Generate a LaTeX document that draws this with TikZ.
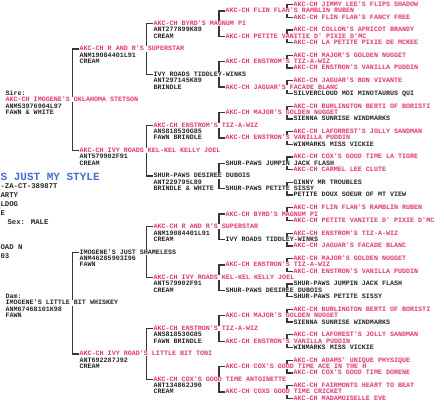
\documentclass[tikz,border=0pt]{standalone}
\usepackage{fontspec}
\newfontfamily\pedfont{Liberation Mono}
\usetikzlibrary{calc}
\definecolor{pk}{RGB}{225,55,120}
\definecolor{bk}{RGB}{40,40,40}
\definecolor{ttl}{RGB}{70,110,210}
\definecolor{linec}{RGB}{55,55,55}
\pgfdeclarelayer{bg}
\pgfsetlayers{bg,main}
\def\yb{4.6}
\def\ys{12.7}
\tikzset{
 txt/.style={anchor=west, inner sep=0.4pt, text height=4.1pt, text depth=0.3pt, font=\pedfont\bfseries\fontsize{6.7}{8}\selectfont},
 nm/.style={txt, fill=white},
 info/.style={txt, text=bk},
 conn/.style={draw=linec, line width=1.3pt, line join=miter},
 side/.style={anchor=west, inner sep=0.4pt, text=bk, font=\pedfont\bfseries\fontsize{7.3}{9}\selectfont},
}
\begin{document}
\begin{tikzpicture}[x=1pt,y=-1pt]
\useasboundingbox (0,0) rectangle (444,403);
\begin{pgfonlayer}{bg}
\fill[white] (0,0) rectangle (444,403);
\end{pgfonlayer}
% generation 5
\foreach \k/\c/\t in {
 0/pk/{AKC-CH JIMMY LEE'S FLIPS SHADOW},
 1/pk/{AKC-CH FLIN FLAN'S FANCY FREE},
 2/pk/{AKC-CH COLLON'S APRICOT BRANDY},
 3/pk/{AKC-CH LA PETITE PIXIE DE MCKEE},
 4/pk/{AKC-CH MAJOR'S GOLDEN NUGGET},
 5/pk/{AKC-CH ENSTRON'S VANILLA PUDDIN},
 6/pk/{AKC-CH JAGUAR'S BON VIVANTE},
 7/bk/{SILVERCLOUD MOI MINOTAURUS QUI},
 8/pk/{AKC-CH BURLINGTON BERTI OF BORISTI},
 9/bk/{SIENNA SUNRISE WINDMARKS},
 10/pk/{AKC-CH LAFORREST'S JOLLY SANDMAN},
 11/bk/{WINMARKS MISS VICKIE},
 12/pk/{AKC-CH COX'S GOOD TIME LA TIGRE},
 13/pk/{AKC-CH CARMEL LEE CLUTE},
 14/bk/{GINNY MR TROUBLES},
 15/bk/{PETITE DOUX SOEUR OF MT VIEW},
 16/pk/{AKC-CH FLIN FLAN'S RAMBLIN RUBEN},
 17/pk/{AKC-CH PETITE VANITIE D' PIXIE D'MC},
 18/pk/{AKC-CH ENSTROM'S TIZ-A-WIZ},
 19/pk/{AKC-CH JAGUAR'S FACADE BLANC},
 20/pk/{AKC-CH MAJOR'S GOLDEN NUGGET},
 21/pk/{AKC-CH ENSTRON'S VANILLA PUDDIN},
 22/bk/{SHUR-PAWS JUMPIN JACK FLASH},
 23/bk/{SHUR-PAWS PETITE SISSY},
 24/pk/{AKC-CH BURLINGTON BERTI OF BORISTI},
 25/bk/{SIENNA SUNRISE WINDMARKS},
 26/pk/{AKC-CH LAFOREST'S JOLLY SANDMAN},
 27/bk/{WINMARKS MISS VICKIE},
 28/pk/{AKC-CH ADAMS' UNIQUE PHYSIQUE},
 29/pk/{AKC-CH COX'S GOOD TIME DORENE},
 30/pk/{AKC-CH FAIRMONTS HEART TO BEAT},
 31/pk/{AKC-CH MADAMOISELLE EVE}}{
 \node[nm,text=\c] (g5-\k) at (293,{\yb+\ys*\k}) {\t};
}
% generation 4
\foreach \k/\c/\t in {
 0/pk/{AKC-CH FLIN FLAN'S RAMBLIN RUBEN},
 1/pk/{AKC-CH PETITE VANITIE D' PIXIE D'MC},
 2/pk/{AKC-CH ENSTROM'S TIZ-A-WIZ},
 3/pk/{AKC-CH JAGUAR'S FACADE BLANC},
 4/pk/{AKC-CH MAJOR'S GOLDEN NUGGET},
 5/pk/{AKC-CH ENSTRON'S VANILLA PUDDIN},
 6/bk/{SHUR-PAWS JUMPIN JACK FLASH},
 7/bk/{SHUR-PAWS PETITE SISSY},
 8/pk/{AKC-CH BYRD'S MAGNUM PI},
 9/bk/{IVY ROADS TIDDLEY-WINKS},
 10/pk/{AKC-CH ENSTRON'S TIZ-A-WIZ},
 11/bk/{SHUR-PAWS DESIREE DUBOIS},
 12/pk/{AKC-CH MAJOR'S GOLDEN NUGGET},
 13/pk/{AKC-CH ENSTRON'S VANILLA PUDDIN},
 14/pk/{AKC-CH COX'S GOOD TIME ACE IN THE H},
 15/pk/{AKC-CH COXS GOOD TIME CRICKET}}{
 \node[nm,text=\c] (g4-\k) at (225,{\yb+\ys*(2*\k+0.5)}) {\t};
}
% generation 3
\foreach \k/\c/\t/\r/\d in {
 0/pk/{AKC-CH BYRD'S MAGNUM PI}/{ANT277899K89}/{CREAM},
 1/bk/{IVY ROADS TIDDLEY-WINKS}/{ANT297145K89}/{BRINDLE},
 2/pk/{AKC-CH ENSTROM'S TIZ-A-WIZ}/{ANS818530G85}/{FAWN BRINDLE},
 3/bk/{SHUR-PAWS DESIREE DUBOIS}/{ANT229795L89}/{BRINDLE \& WHITE},
 4/pk/{AKC-CH R AND R'S SUPERSTAR}/{ANM19084401L91}/{CREAM},
 5/pk/{AKC-CH IVY ROADS KEL-KEL KELLY JOEL}/{ANT579902F91}/{CREAM},
 6/pk/{AKC-CH ENSTRON'S TIZ-A-WIZ}/{ANS818530G85}/{FAWN BRINDLE},
 7/pk/{AKC-CH COX'S GOOD TIME ANTOINETTE}/{ANT134862J90}/{CREAM}}{
 \node[nm,text=\c] (g3-\k) at (153,{\yb+\ys*(4*\k+1.5)}) {\t};
 \node[info] (g3-\k-r) at (153,{\yb+\ys*(4*\k+1.5)+6.4}) {\r};
 \node[info] (g3-\k-c) at (153,{\yb+\ys*(4*\k+1.5)+12.8}) {\d};
}
% generation 2
\foreach \k/\c/\t/\r/\d in {
 0/pk/{AKC-CH R AND R'S SUPERSTAR}/{ANM19084401L91}/{CREAM},
 1/pk/{AKC-CH IVY ROADS KEL-KEL KELLY JOEL}/{ANT579902F91}/{CREAM},
 2/bk/{IMOGENE'S JUST SHAMELESS}/{ANM46285903I96}/{FAWN},
 3/pk/{AKC-CH IVY ROAD'S LITTLE BIT TONI}/{ANT692287J92}/{CREAM}}{
 \node[nm,text=\c] (g2-\k) at (79,{\yb+\ys*(8*\k+3.5)}) {\t};
 \node[info] (g2-\k-r) at (79,{\yb+\ys*(8*\k+3.5)+6.4}) {\r};
 \node[info] (g2-\k-c) at (79,{\yb+\ys*(8*\k+3.5)+12.8}) {\d};
}
% generation 1
\foreach \k/\l/\c/\t/\r/\d in {
 0/{Sire:}/pk/{AKC-CH IMOGENE'S OKLAHOMA STETSON}/{ANM53976904L97}/{FAWN \& WHITE},
 1/{Dam:}/bk/{IMOGENE'S LITTLE BIT WHISKEY}/{ANM67468101K98}/{FAWN}}{
 \node[info] (g1-\k-l) at (5,{\yb+\ys*(16*\k+7.5)-6.4}) {\l};
 \node[nm,text=\c] (g1-\k) at (5,{\yb+\ys*(16*\k+7.5)}) {\t};
 \node[info] (g1-\k-r) at (5,{\yb+\ys*(16*\k+7.5)+6.4}) {\r};
 \node[info] (g1-\k-c) at (5,{\yb+\ys*(16*\k+7.5)+12.8}) {\d};
}
% the dog itself (cut at the left edge)
\node[anchor=west, inner sep=0.4pt, text=ttl, font=\pedfont\bfseries\fontsize{11}{13}\selectfont] (title) at (0,177) {S JUST MY STYLE};
\node[side] (s1) at (0,186) {-ZA-CT-38987T};
\node[side] (s2) at (0,195) {ARTY};
\node[side] (s3) at (0,204) {LDOG};
\node[side] (s4) at (0,213) {E};
\node[side] (s5) at (7,222) {Sex: MALE};
\node[side] (s6) at (0,247) {OAD N};
\node[side] (s7) at (0,256) {03};
% connectors
\begin{pgfonlayer}{bg}
\foreach \j in {0,...,15}{
 \pgfmathtruncatemacro\a{2*\j}\pgfmathtruncatemacro\b{2*\j+1}
 \draw[conn] (g5-\a.west) -- ++(-6,0) |- (g5-\b.west);
}
\foreach \j in {0,...,7}{
 \pgfmathtruncatemacro\a{2*\j}\pgfmathtruncatemacro\b{2*\j+1}
 \draw[conn] (g4-\a.west) -- ++(-6,0) |- (g4-\b.west);
}
\foreach \j in {0,...,3}{
 \pgfmathtruncatemacro\a{2*\j}\pgfmathtruncatemacro\b{2*\j+1}
 \draw[conn] (g3-\a.west) -- ++(-6.5,0) |- (g3-\b.west);
}
\foreach \j in {0,1}{
 \pgfmathtruncatemacro\a{2*\j}\pgfmathtruncatemacro\b{2*\j+1}
 \draw[conn] (g2-\a.west) -- ++(-6.5,0) |- (g2-\b.west);
}
\end{pgfonlayer}
\end{tikzpicture}
\end{document}
